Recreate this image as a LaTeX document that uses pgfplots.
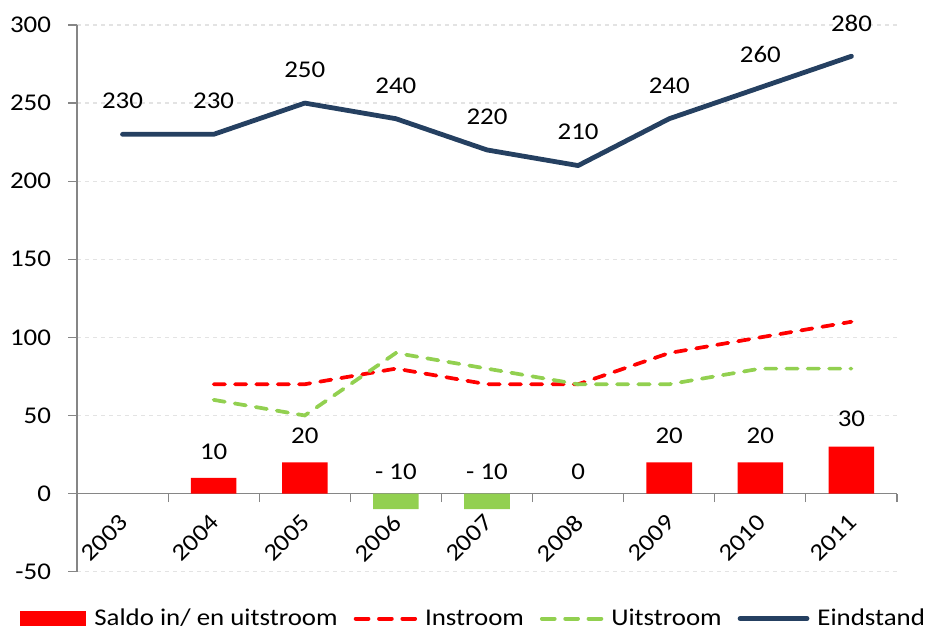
\documentclass[border=0pt]{standalone}
\usepackage{fontspec}
\setmainfont{Carlito}[FakeStretch=1.12]
\usepackage{pgfplots}
\pgfplotsset{compat=1.18}
\definecolor{navy}{HTML}{254061}
\definecolor{lgreen}{HTML}{92D050}
\definecolor{gridc}{HTML}{E3E3E3}
\definecolor{axc}{HTML}{868686}
\newcommand{\cf}{\fontsize{18}{21}\selectfont}
\newcommand{\ls}{\rule[-5pt]{0pt}{17pt}}
\begin{document}
\begin{tikzpicture}
\begin{axis}[
  scale only axis, width=615pt, height=410pt,
  xmin=-0.5, xmax=8.5, ymin=-50, ymax=300,
  axis y line=left, axis x line=middle,
  axis line style={-, draw=axc, line width=0.9pt},
  ytick={-50,0,...,300},
  ymajorgrids, grid style={dashed, gridc, line width=0.9pt},
  tick align=outside, major tick length=6.5pt,
  tick style={draw=axc, line width=0.9pt},
  xtick={0.5,1.5,...,8.5}, xticklabels={},
  extra x ticks={0,1,2,3,4,5,6,7,8},
  extra x tick labels={2003,2004,2005,2006,2007,2008,2009,2010,2011},
  extra x tick style={major tick length=0pt, grid=none,
     tick label style={xshift=3.5pt, yshift=-16.5pt, rotate=45, anchor=east}},
  /pgf/number format/assume math mode=true,
  tick label style={font=\cf, text=black},
  yticklabel style={xshift=-9.5pt},
  clip=false,
  legend columns=4,
  legend style={draw=none, font=\cf, at={(axis description cs:0.5,0)}, anchor=north,
     xshift=-10pt, yshift=-26pt, inner ysep=0pt,
     /tikz/every even column/.append style={column sep=10pt},
     /tikz/every odd column/.append style={column sep=4pt}},
  nodes near coords style={font=\cf, text=black},
]
\coordinate (SW) at (axis description cs:0,0);
\coordinate (NE) at (axis description cs:1,1);
\addplot[ybar, bar width=0.5, bar shift=0pt, fill=red, draw=none,
  legend image code/.code={\fill[red] (0pt,-5.5pt) rectangle (50pt,5.5pt);}]
  coordinates {(1,10) (2,20) (6,20) (7,20) (8,30)};
\addlegendentry{\ls Saldo in/ en uitstroom}
\addplot[ybar, bar width=0.5, bar shift=0pt, fill=lgreen, draw=none, forget plot]
  coordinates {(3,-10) (4,-10)};
\addplot[red, line width=2.8pt, line cap=round, dash pattern=on 8.5pt off 7.5pt,
  legend image code/.code={\draw[red, line width=3pt, line cap=round, dash pattern=on 9.5pt off 8pt] (1.5pt,0pt) -- (46pt,0pt);}]
  coordinates {(1,70) (2,70) (3,80) (4,70) (5,70) (6,90) (7,100) (8,110)};
\addlegendentry{\ls Instroom}
\addplot[lgreen, line width=2.8pt, line cap=round, dash pattern=on 8.5pt off 7.5pt,
  legend image code/.code={\draw[lgreen, line width=3pt, line cap=round, dash pattern=on 9.5pt off 8pt] (1.5pt,0pt) -- (46pt,0pt);}]
  coordinates {(1,60) (2,50) (3,90) (4,80) (5,70) (6,70) (7,80) (8,80)};
\addlegendentry{\ls Uitstroom}
\addplot[navy, line width=3.6pt, line cap=round, line join=round,
  nodes near coords, nodes near coords align={center},
  every node near coord/.append style={yshift=25pt},
  legend image code/.code={\draw[navy, line width=3.6pt, line cap=round] (1.8pt,0pt) -- (52pt,0pt);}]
  coordinates {(0,230) (1,230) (2,250) (3,240) (4,220) (5,210) (6,240) (7,260) (8,280)};
\addlegendentry{\ls Eindstand}
% Saldo labels
\addplot[draw=none, mark=none, forget plot, nodes near coords, point meta=explicit symbolic,
  nodes near coords align={center}]
  coordinates {(1,27)[10] (2,37)[20] (3,14)[- 10] (4,14)[- 10] (5,14)[0] (6,37)[20] (7,37)[20] (8,48)[30]};
\end{axis}
\pgfresetboundingbox
\path ([xshift=-57.75pt,yshift=-48.75pt]SW) rectangle ([xshift=30pt,yshift=18.75pt]NE);
\end{tikzpicture}
\end{document}
